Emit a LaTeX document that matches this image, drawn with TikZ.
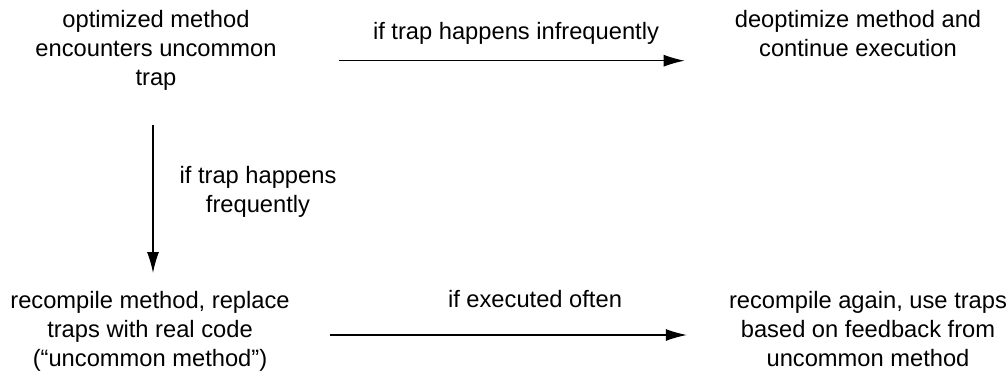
\documentclass[tikz,border=0pt]{standalone}
\usepackage{fontspec}
\setmainfont{Liberation Sans}
\usetikzlibrary{arrows.meta,positioning,calc}
\tikzstyle{action}=[align=center, inner sep=0pt, anchor=north]
\tikzstyle{cond}=[align=center, inner sep=0pt]
\tikzstyle{flow}=[-{Latex[length=21pt,width=12pt]}, line width=1.2pt, black]

\begin{document}
\begin{tikzpicture}[x=1pt, y=-1pt, font=\fontsize{23.7}{29}\selectfont]
        %
        \useasboundingbox (0,0) rectangle (1008,377);
      \node at (156,10) [action] (trap) {optimized method\\encounters uncommon\\trap};
      \node at (858,10) [action] (deopt) {deoptimize method and\\continue execution};
      \node at (150,291) [action] (recomp) {recompile method, replace\\traps with real code\\(“uncommon method”)};
      \node at (868,291) [action] (again) {recompile again, use traps\\based on feedback from\\uncommon method};
      %
      \draw[flow, shorten <=62pt, shorten >=50pt] (trap.east |- 0,60.7) -- (deopt.west |- 0,60.7);
      \draw[flow, shorten <=35pt, shorten >=18pt] ([xshift=-3pt]trap.south) -- ([xshift=-3pt]trap.south |- recomp.north);
      \draw[flow, shorten <=40pt, shorten >=42pt] (recomp.east |- 0,335) -- (again.west |- 0,335);
      %
      \node at (516,39.5) [cond, anchor=base] (infreq) {if trap happens infrequently};
      \node at (258,166) [cond, anchor=north] (freq) {if trap happens\\frequently};
      \node at (535,307.5) [cond, anchor=base] (often) {if executed often};
    \end{tikzpicture}
\end{document}
